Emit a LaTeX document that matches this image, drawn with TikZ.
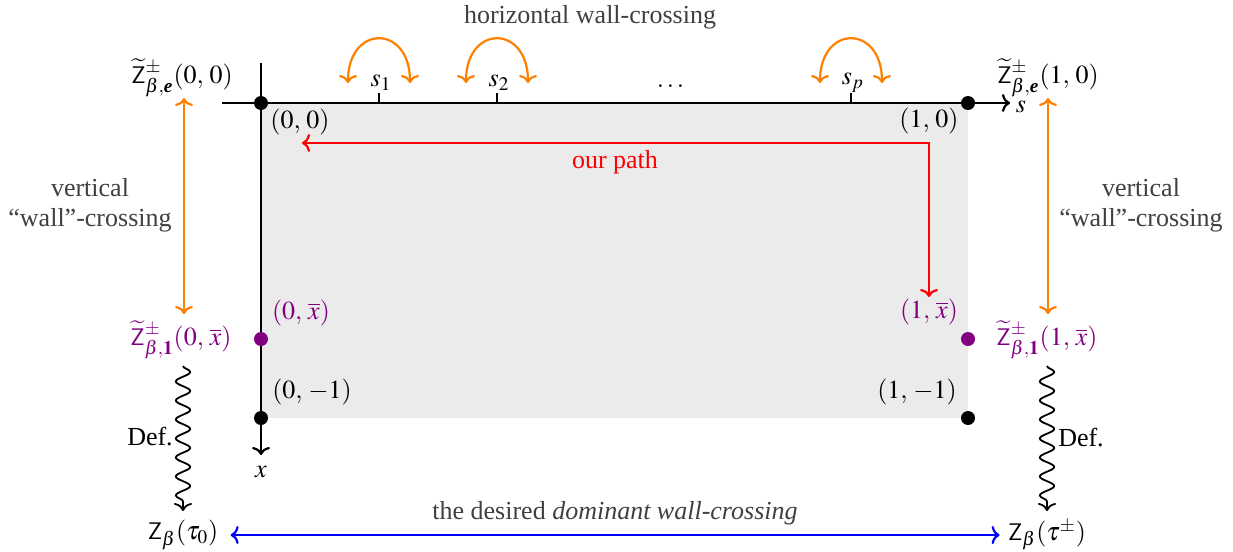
\documentclass[tikz,border=0pt]{standalone}
\usepackage{amsmath}
\usepackage{mathptmx}
\usepackage{fontspec}
\setmainfont{Liberation Serif}
\usetikzlibrary{decorations.pathmorphing,calc,arrows.meta}
\definecolor{wcorange}{RGB}{255,128,0}
\definecolor{wcpurple}{RGB}{128,0,128}
\definecolor{txtgray}{RGB}{64,64,64}
\definecolor{regiongray}{RGB}{235,235,235}
\begin{document}
\begin{tikzpicture}[x=0.5pt,y=-0.5pt,
  every node/.style={font=\fontsize{13}{15}\selectfont, inner sep=1pt},
  glbl/.style={text=txtgray, align=center},
  dotb/.style={circle, fill=black, inner sep=0pt, minimum size=7pt},
  dotp/.style={circle, fill=wcpurple, inner sep=0pt, minimum size=7pt},
  onetip/.style={-{Computer Modern Rightarrow[width=9pt,length=4pt]}},
  twotips/.style={{Computer Modern Rightarrow[width=9pt,length=4pt]}-{Computer Modern Rightarrow[width=9pt,length=4pt]}},
  axis/.style={line width=1.1pt, onetip},
  orangearr/.style={wcorange, line width=1.1pt, twotips},
  redarr/.style={red, line width=1.1pt, twotips},
  bluearr/.style={blue, line width=1.1pt, twotips},
  snakearr/.style={line width=0.9pt, onetip, decorate,
    decoration={snake, amplitude=3.6pt, segment length=9.5pt, post length=4pt}},
  tick/.style={line width=0.6pt}
]
\useasboundingbox (0,0) rectangle (1233,552);
% region
\fill[regiongray] (261,103) rectangle (968,418);
% axes
\coordinate (sstart) at (222,103);
\coordinate (send) at (1010,103);
\coordinate (xstart) at (261,63);
\coordinate (xend) at (261,455);
\draw[axis] (sstart) -- (send);
\draw[axis] (xstart) -- (xend);
\node (slab) at (1021,107) {$s$};
\node (xlab) at (261,472) {$x$};
% ticks
\foreach \n/\xx/\lab in {t1/379/{s_1}, t2/497/{s_2}, tp/851/{s_p}} {
  \coordinate (\n a) at (\xx,93);
  \coordinate (\n b) at (\xx,103);
  \draw[tick] (\n a) -- (\n b);
  \node (\n l) at (\xx+2,83) {$\lab$};
  \coordinate (\n L) at (\xx-31,83);
  \coordinate (\n R) at (\xx+31,83);
  \draw[orangearr] (\n L) .. controls ($(\n L)+(0,-59)$) and ($(\n R)+(0,-59)$) .. (\n R);
}
\node (dots) at (672,86) {$\dots$};
\node[glbl] (hwc) at (590,17) {horizontal wall-crossing};
% dots
\node[dotb] (p00) at (261,103) {};
\node[dotb] (p10) at (968,103) {};
\node[dotb] (p0m) at (261,418) {};
\node[dotb] (p1m) at (968,418) {};
\node[dotp] (p0x) at (261,339) {};
\node[dotp] (p1x) at (968,339) {};
% dot labels
\node (l00) at (300,122) {$(0,\,0)$};
\node (l10) at (929,121) {$(1,\,0)$};
\node[text=wcpurple] (l0x) at (301,313) {$(0,\,\overline{x})$};
\node[text=wcpurple] (l1x) at (929,312) {$(1,\,\overline{x})$};
\node (l0m) at (312,392) {$(0,\,-1)$};
\node (l1m) at (917,392) {$(1,\,-1)$};
% red path
\coordinate (rs) at (302,143);
\coordinate (rc) at (929,143);
\coordinate (re) at (929,297);
\draw[redarr] (rs) -- (rc) -- (re);
\node[text=red] (ourpath) at (615,162) {our path};
% side labels
\node (zl00) at (182,78) {$\widetilde{\mathsf{Z}}^{\pm}_{\beta,\textbf{\textit{e}}}(0,\,0)$};
\node (zr00) at (1048,78) {$\widetilde{\mathsf{Z}}^{\pm}_{\beta,\textbf{\textit{e}}}(1,\,0)$};
\node[text=wcpurple] (zl0x) at (181,340) {$\widetilde{\mathsf{Z}}^{\pm}_{\beta,\mathbf{1}}(0,\,\overline{x})$};
\node[text=wcpurple] (zr1x) at (1047,340) {$\widetilde{\mathsf{Z}}^{\pm}_{\beta,\mathbf{1}}(1,\,\overline{x})$};
\node (zt0) at (183,535) {$\mathsf{Z}_{\beta}(\tau_0)$};
\node (ztp) at (1047,535) {$\mathsf{Z}_{\beta}(\tau^{\pm})$};
% vertical wall crossings
\coordinate (ol1) at (184,98);
\coordinate (ol2) at (184,314);
\coordinate (or1) at (1048,98);
\coordinate (or2) at (1048,314);
\draw[orangearr] (ol1) -- (ol2);
\draw[orangearr] (or1) -- (or2);
\node[glbl] (vwl) at (90,205) {vertical\\``wall''-crossing};
\node[glbl] (vwr) at (1141,205) {vertical\\``wall''-crossing};
% snakes
\coordinate (sl1) at (183,366);
\coordinate (sl2) at (183,511);
\coordinate (sr1) at (1047,366);
\coordinate (sr2) at (1047,511);
\draw[snakearr] (sl1) -- (sl2);
\draw[snakearr] (sr1) -- (sr2);
\node (defl) at (150,437) {Def.};
\node (defr) at (1081,438) {Def.};
% blue
\draw[bluearr, shorten <=5pt, shorten >=3pt] (zt0) -- (ztp);
\node[glbl] (dwc) at (615,513) {the desired \textit{dominant wall-crossing}};
\end{tikzpicture}
\end{document}
